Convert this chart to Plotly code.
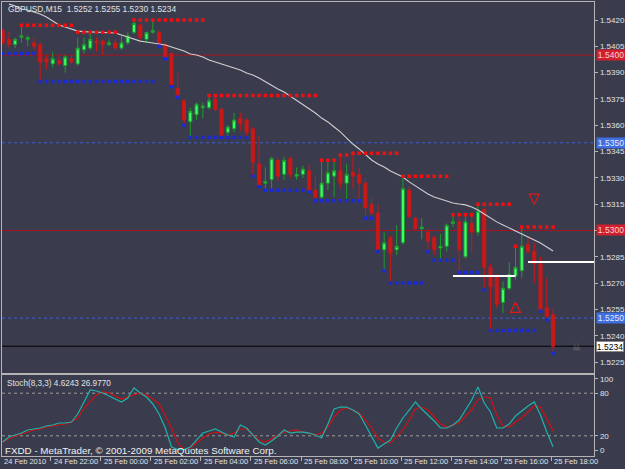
import plotly.graph_objects as go

# ---------------- data ----------------
time_labels = ["24 Feb 2010", "24 Feb 22:00", "25 Feb 00:00", "25 Feb 02:00", "25 Feb 04:00",
               "25 Feb 06:00", "25 Feb 08:00", "25 Feb 10:00", "25 Feb 12:00", "25 Feb 14:00",
               "25 Feb 16:00", "25 Feb 18:00"]
time_label_bars = [0, 8, 16, 24, 32, 40, 48, 56, 64, 72, 80, 88]

opens = [1.5414, 1.5409, 1.5406, 1.5410, 1.5409, 1.5407, 1.5406, 1.5398, 1.5395, 1.5397,
         1.5394, 1.5398, 1.5395, 1.5403, 1.5404, 1.5408, 1.5408, 1.5406, 1.5407, 1.5404,
         1.5407, 1.5413, 1.5417, 1.5409, 1.5413, 1.5413, 1.5406, 1.5401, 1.5381, 1.5374,
         1.5362, 1.5366, 1.5370, 1.5370, 1.5375, 1.5369, 1.5356, 1.5358, 1.5364, 1.5363,
         1.5358, 1.5338, 1.5327, 1.5329, 1.5340, 1.5332, 1.5341, 1.5331, 1.5332, 1.5334,
         1.5323, 1.5319, 1.5327, 1.5331, 1.5334, 1.5327, 1.5333, 1.5332, 1.5327, 1.5315,
         1.5310, 1.5289, 1.5296, 1.5289, 1.5293, 1.5323, 1.5307, 1.5301, 1.5299, 1.5296,
         1.5290, 1.5291, 1.5304, 1.5305, 1.5285, 1.5304, 1.5299, 1.5312, 1.5279, 1.5274,
         1.5259, 1.5267, 1.5274, 1.5277, 1.5292, 1.5288, 1.5281, 1.5256, 1.5252]
highs = [1.5415, 1.5413, 1.5410, 1.5417, 1.5411, 1.5410, 1.5407, 1.5400, 1.5402, 1.5400,
         1.5400, 1.5400, 1.5410, 1.5410, 1.5413, 1.5410, 1.5409, 1.5409, 1.5409, 1.5411,
         1.5413, 1.5420, 1.5418, 1.5413, 1.5420, 1.5414, 1.5407, 1.5402, 1.5390, 1.5375,
         1.5370, 1.5373, 1.5373, 1.5377, 1.5377, 1.5370, 1.5360, 1.5367, 1.5367, 1.5364,
         1.5359, 1.5354, 1.5336, 1.5342, 1.5341, 1.5342, 1.5342, 1.5336, 1.5337, 1.5338,
         1.5331, 1.5340, 1.5340, 1.5340, 1.5343, 1.5338, 1.5344, 1.5336, 1.5330, 1.5319,
         1.5315, 1.5299, 1.5297, 1.5303, 1.5331, 1.5325, 1.5308, 1.5307, 1.5301, 1.5297,
         1.5298, 1.5304, 1.5309, 1.5307, 1.5308, 1.5309, 1.5315, 1.5313, 1.5281, 1.5275,
         1.5271, 1.5282, 1.5291, 1.5302, 1.5296, 1.5293, 1.5285, 1.5273, 1.5255]
lows = [1.5406, 1.5404, 1.5404, 1.5407, 1.5405, 1.5403, 1.5385, 1.5392, 1.5393, 1.5394,
        1.5390, 1.5395, 1.5394, 1.5401, 1.5403, 1.5402, 1.5400, 1.5405, 1.5403, 1.5403,
        1.5406, 1.5412, 1.5409, 1.5407, 1.5412, 1.5405, 1.5398, 1.5382, 1.5376, 1.5360,
        1.5353, 1.5363, 1.5364, 1.5369, 1.5368, 1.5353, 1.5353, 1.5356, 1.5357, 1.5354,
        1.5331, 1.5325, 1.5323, 1.5324, 1.5328, 1.5329, 1.5330, 1.5329, 1.5330, 1.5322,
        1.5317, 1.5318, 1.5323, 1.5319, 1.5324, 1.5317, 1.5324, 1.5317, 1.5307, 1.5307,
        1.5288, 1.5277, 1.5270, 1.5286, 1.5292, 1.5307, 1.5300, 1.5295, 1.5288, 1.5286,
        1.5283, 1.5288, 1.5302, 1.5276, 1.5284, 1.5287, 1.5297, 1.5266, 1.5243, 1.5256,
        1.5253, 1.5266, 1.5272, 1.5273, 1.5287, 1.5270, 1.5254, 1.5249, 1.5230]
closes = [1.5407, 1.5406, 1.5409, 1.5411, 1.5410, 1.5405, 1.5396, 1.5396, 1.5398, 1.5395,
          1.5399, 1.5396, 1.5404, 1.5406, 1.5409, 1.5407, 1.5406, 1.5407, 1.5404, 1.5407,
          1.5411, 1.5418, 1.5410, 1.5413, 1.5414, 1.5406, 1.5399, 1.5383, 1.5376, 1.5363,
          1.5368, 1.5372, 1.5371, 1.5374, 1.5369, 1.5354, 1.5359, 1.5363, 1.5361, 1.5356,
          1.5339, 1.5326, 1.5328, 1.5341, 1.5331, 1.5340, 1.5332, 1.5332, 1.5335, 1.5323,
          1.5319, 1.5327, 1.5333, 1.5334, 1.5327, 1.5332, 1.5331, 1.5327, 1.5313, 1.5310,
          1.5289, 1.5293, 1.5287, 1.5291, 1.5324, 1.5308, 1.5301, 1.5302, 1.5294, 1.5289,
          1.5291, 1.5303, 1.5305, 1.5289, 1.5305, 1.5299, 1.5311, 1.5279, 1.5268, 1.5258,
          1.5267, 1.5275, 1.5279, 1.5291, 1.5288, 1.5281, 1.5255, 1.5251, 1.5234]

ma_values = [None, 1.54291, 1.54280, 1.54263, 1.54257, 1.54246, 1.54234, 1.54217, 1.54194, 1.54172,
             1.54160, 1.54149, 1.54137, 1.54134, 1.54132, 1.54132, 1.54132, 1.54126, 1.54126, 1.54115,
             1.54103, 1.54092, 1.54080, 1.54075, 1.54069, 1.54063, 1.54058, 1.54046, 1.54035, 1.54023,
             1.54006, 1.54001, 1.53989, 1.53972, 1.53961, 1.53949, 1.53938, 1.53926, 1.53915, 1.53898,
             1.53887, 1.53869, 1.53847, 1.53824, 1.53807, 1.53790, 1.53767, 1.53744, 1.53716, 1.53693,
             1.53670, 1.53641, 1.53619, 1.53590, 1.53562, 1.53527, 1.53493, 1.53465, 1.53431, 1.53402,
             1.53379, 1.53362, 1.53339, 1.53322, 1.53305, 1.53277, 1.53254, 1.53231, 1.53208, 1.53191,
             1.53180, 1.53168, 1.53157, 1.53151, 1.53146, 1.53134, 1.53117, 1.53094, 1.53071, 1.53049,
             1.53032, 1.53014, 1.52997, 1.52980, 1.52963, 1.52946, 1.52929, 1.52906, 1.52883]

# dotted stop levels: (first bar, last bar, price)
resistance_runs = [(3, 11, 1.5417), (12, 18, 1.5413), (21, 32, 1.5420), (33, 50, 1.5377),
                   (51, 53, 1.5340), (54, 55, 1.5343), (56, 63, 1.5344), (64, 71, 1.5331),
                   (72, 75, 1.5309), (76, 81, 1.5315), (82, 82, 1.5291), (83, 88, 1.5302)]
support_runs = [(0, 5, 1.5401), (6, 24, 1.5385), (25, 25, 1.5405), (26, 26, 1.5398),
                (27, 27, 1.5382), (28, 28, 1.5376), (29, 29, 1.5360), (30, 39, 1.5353),
                (40, 40, 1.5331), (41, 41, 1.5325), (42, 48, 1.5323), (49, 49, 1.5322),
                (50, 57, 1.5317), (58, 59, 1.5307), (60, 60, 1.5288), (61, 61, 1.5277),
                (62, 67, 1.5270), (68, 68, 1.5288), (69, 72, 1.5283), (73, 76, 1.5276),
                (77, 77, 1.5266), (78, 85, 1.5243), (86, 86, 1.5254), (87, 87, 1.5249),
                (88, 88, 1.5230)]

# horizontal trend lines drawn by the user: (start bar, end bar, price)
trend_lines = [(72, 82, 1.5274), (84, 94.6, 1.5282)]
arrows_up = [(82, 1.5259)]
arrows_down = [(85, 1.5315)]

red_levels = [1.5400, 1.5300]
blue_levels = [1.5350, 1.5250]
bid_price = 1.5234

stoch_main = [11.3, 18.3, 21.1, 23.9, 28.2, 29.6, 31.0, 33.8, 35.2, 38.0,
              38.0, 39.4, 50.7, 67.6, 84.5, 83.1, 80.3, 76.0, 71.8, 67.6,
              73.2, 87.3, 80.3, 74.6, 64.8, 50.7, 31.0, 4.2, 0.5, 0.5,
              4.2, 14.1, 23.9, 26.8, 29.6, 25.3, 21.1, 18.3, 35.2, 31.0,
              21.1, 11.3, 7.0, 12.7, 19.7, 28.2, 23.9, 25.3, 25.3, 23.9,
              21.1, 16.9, 36.6, 57.7, 60.5, 60.5, 56.3, 50.7, 35.2, 18.3,
              2.8, 8.4, 14.1, 31.0, 45.1, 56.3, 67.6, 57.7, 49.3, 40.8,
              31.0, 31.0, 35.2, 42.2, 56.3, 70.4, 88.7, 66.2, 53.5, 31.0,
              31.0, 36.6, 47.9, 54.9, 62.0, 67.6, 49.3, 25.3, 4.62]
stoch_signal = [11.3, 15.5, 19.7, 22.5, 25.3, 28.2, 29.6, 32.4, 33.8, 35.2,
                36.6, 39.4, 45.1, 59.1, 69.0, 77.4, 81.7, 80.3, 76.0, 71.8,
                74.6, 77.4, 80.3, 77.4, 71.8, 64.8, 49.3, 31.0, 9.9, 0.5,
                2.8, 9.9, 16.9, 22.5, 25.3, 23.9, 21.1, 23.9, 29.6, 29.6,
                22.5, 14.1, 11.3, 15.5, 21.1, 25.3, 26.8, 28.2, 25.3, 23.9,
                21.1, 23.9, 32.4, 46.5, 56.3, 59.1, 56.3, 52.1, 42.2, 31.0,
                16.9, 11.3, 9.9, 19.7, 28.2, 42.2, 57.7, 60.5, 56.3, 46.5,
                36.6, 32.4, 35.2, 38.0, 47.9, 56.3, 70.4, 74.6, 73.2, 49.3,
                33.8, 32.4, 39.4, 45.1, 53.5, 62.0, 60.5, 43.7, 26.98]

price_ticks = [1.5225, 1.5240, 1.5255, 1.5270, 1.5285, 1.5300, 1.5315, 1.5330,
               1.5345, 1.5360, 1.5375, 1.5390, 1.5405, 1.5420]
stoch_ticks = [0, 20, 80, 100]
stoch_levels = [20, 80]

# ---------------- styling ----------------
BG = "#3a3c4e"
FRAME = "#b4b4b4"
TXT = "#e2e2e2"
FONT = "Liberation Sans, Arial, sans-serif"
W, H = 625, 469
x0p, x1p = 2 / W, 594.3 / W
main_dom = [1 - 372.7 / H, 1 - 2 / H]
stoch_dom = [1 - 455.7 / H, 1 - 375 / H]
xrange = [-0.11, 94.6]

bars = list(range(len(opens)))
# price labels hidden behind a level box in the terminal are left blank
boxed = set(red_levels + blue_levels)
price_ticktext = ["" if v in boxed else f"{v:.4f}" for v in price_ticks]


def expand(runs):
    xs, ys = [], []
    for a, b, v in runs:
        for i in range(a, b + 1):
            xs.append(i)
            ys.append(v)
    return xs, ys


fig = go.Figure()

# horizontal level lines
for lv in red_levels:
    fig.add_shape(type="line", xref="paper", yref="y", x0=x0p, x1=x1p, y0=lv, y1=lv,
                  line=dict(color="#a8141e", width=1), layer="below")
for lv in blue_levels:
    fig.add_shape(type="line", xref="paper", yref="y", x0=x0p, x1=x1p, y0=lv, y1=lv,
                  line=dict(color="#3e5fd0", width=1, dash="3px,3px"), layer="below")
fig.add_shape(type="line", xref="paper", yref="y", x0=x0p, x1=x1p, y0=bid_price, y1=bid_price,
              line=dict(color="#000000", width=1), layer="below")

# stochastic level lines
for lv in stoch_levels:
    fig.add_shape(type="line", xref="paper", yref="y2", x0=x0p, x1=x1p, y0=lv, y1=lv,
                  line=dict(color="#9a9a9a", width=1, dash="3px,3px"), layer="below")

# moving average
fig.add_trace(go.Scatter(x=bars, y=ma_values, mode="lines", line=dict(color="#cfcfcf", width=1.1),
                         xaxis="x", yaxis="y", hoverinfo="skip", showlegend=False))

# trend lines
for a, b, v in trend_lines:
    fig.add_trace(go.Scatter(x=[a, b], y=[v, v], mode="lines", line=dict(color="#ffffff", width=2),
                             xaxis="x", yaxis="y", hoverinfo="skip", showlegend=False))

# dotted stops
rx, ry = expand(resistance_runs)
sx, sy = expand(support_runs)
fig.add_trace(go.Scatter(x=rx, y=ry, mode="markers",
                         marker=dict(symbol="square", size=3.5, color="#ee1010", line=dict(width=0)),
                         xaxis="x", yaxis="y", hoverinfo="skip", showlegend=False))
fig.add_trace(go.Scatter(x=sx, y=sy, mode="markers",
                         marker=dict(symbol="square", size=3.5, color="#1a2ad8", line=dict(width=0)),
                         xaxis="x", yaxis="y", hoverinfo="skip", showlegend=False))

# candles
fig.add_trace(go.Candlestick(x=bars, open=opens, high=highs, low=lows, close=closes,
                             increasing=dict(line=dict(color="#1f9a2a", width=1), fillcolor="#3cff6e"),
                             decreasing=dict(line=dict(color="#c81818", width=1), fillcolor="#c81818"),
                             whiskerwidth=0, xaxis="x", yaxis="y", hoverinfo="skip", showlegend=False))

# arrows
fig.add_trace(go.Scatter(x=[a[0] for a in arrows_up], y=[a[1] for a in arrows_up], mode="markers",
                         marker=dict(symbol="arrow-up-open", size=10, color="#e01818", line=dict(width=1.2, color="#e01818")),
                         xaxis="x", yaxis="y", hoverinfo="skip", showlegend=False))
fig.add_trace(go.Scatter(x=[a[0] for a in arrows_down], y=[a[1] for a in arrows_down], mode="markers",
                         marker=dict(symbol="arrow-down-open", size=10, color="#e01818", line=dict(width=1.2, color="#e01818")),
                         xaxis="x", yaxis="y", hoverinfo="skip", showlegend=False))

# stochastic
fig.add_trace(go.Scatter(x=bars, y=stoch_signal, mode="lines", line=dict(color="#d01010", width=1.2),
                         xaxis="x2", yaxis="y2", hoverinfo="skip", showlegend=False))
fig.add_trace(go.Scatter(x=bars, y=stoch_main, mode="lines", line=dict(color="#20b2aa", width=1.2),
                         xaxis="x2", yaxis="y2", hoverinfo="skip", showlegend=False))

axis_common = dict(showgrid=False, zeroline=False, showline=True, mirror=True,
                   linecolor=FRAME, linewidth=1)

fig.update_layout(
    width=W, height=H, margin=dict(l=0, r=0, t=0, b=0),
    paper_bgcolor=BG, plot_bgcolor=BG, showlegend=False,
    font=dict(family=FONT, size=8, color=TXT),
    xaxis=dict(domain=[x0p, x1p], range=xrange, anchor="y", showticklabels=False, ticks="",
               rangeslider=dict(visible=False), **axis_common),
    yaxis=dict(domain=main_dom, range=[1.52189, 1.54303], side="right", anchor="x",
               tickvals=price_ticks, ticktext=price_ticktext,
               ticks="outside", ticklen=3, tickcolor=FRAME,
               tickfont=dict(family=FONT, size=8, color=TXT), **axis_common),
    xaxis2=dict(domain=[x0p, x1p], range=xrange, anchor="y2", showticklabels=False,
                tickvals=[b - 0.3 for b in time_label_bars], ticks="outside", ticklen=4,
                tickcolor=FRAME, **axis_common),
    yaxis2=dict(domain=stoch_dom, range=[-8, 105.6], side="right", anchor="x2",
                tickvals=stoch_ticks, ticktext=[str(v) for v in stoch_ticks],
                ticks="outside", ticklen=3, tickcolor=FRAME,
                tickfont=dict(family=FONT, size=8, color=TXT), **axis_common),
)

ann = []
# title texts
ann.append(dict(text="GBPUSD,M15  1.5252 1.5255 1.5230 1.5234", xref="paper", yref="paper",
                x=6 / W, y=1 - 9 / H, xanchor="left", yanchor="middle", showarrow=False,
                font=dict(family=FONT, size=8.4, color=TXT)))
ann.append(dict(text="Stoch(8,3,3) 4.6243 26.9770", xref="paper", yref="paper",
                x=5 / W, y=1 - 383 / H, xanchor="left", yanchor="middle", showarrow=False,
                font=dict(family=FONT, size=8.2, color=TXT)))
ann.append(dict(text="FXDD - MetaTrader, © 2001-2009 MetaQuotes Software Corp.", xref="paper", yref="paper",
                x=3 / W, y=1 - 450 / H, xanchor="left", yanchor="middle", showarrow=False,
                font=dict(family=FONT, size=9.8, color="#f0f0f0")))
# time labels
for b, t in zip(time_label_bars, time_labels):
    ann.append(dict(text=t, xref="x2", yref="paper", x=b, y=1 - 461.5 / H, xanchor="left",
                    yanchor="middle", xshift=-1, showarrow=False,
                    font=dict(family=FONT, size=7.5, color=TXT)))
# price boxes
for lv in red_levels:
    ann.append(dict(text=f"{lv:.4f}", xref="paper", yref="y", x=596 / W, y=lv, xanchor="left",
                    yanchor="middle", showarrow=False, bgcolor="#d21f2e", borderpad=0,
                    width=28, height=10, font=dict(family=FONT, size=8.5, color="#f4d6d6")))
for lv in blue_levels:
    ann.append(dict(text=f"{lv:.4f}", xref="paper", yref="y", x=596 / W, y=lv, xanchor="left",
                    yanchor="middle", showarrow=False, bgcolor="#3f6fe0", borderpad=0,
                    width=28, height=10, font=dict(family=FONT, size=8.5, color="#e6ecff")))
ann.append(dict(text=f"{bid_price:.4f}", xref="paper", yref="y", x=596 / W, y=bid_price, xanchor="left",
                yanchor="middle", showarrow=False, bgcolor="#ffffff", bordercolor="#888888",
                borderwidth=1, borderpad=0, width=26, height=9,
                font=dict(family=FONT, size=8.5, color="#000000")))
# expert icon
ann.append(dict(text="☠", xref="paper", yref="paper", x=583 / W, y=1 - 355 / H, showarrow=False,
                font=dict(family="DejaVu Sans", size=10, color="#6e6e6e")))
fig.update_layout(annotations=ann)

fig.write_html("out.html")
